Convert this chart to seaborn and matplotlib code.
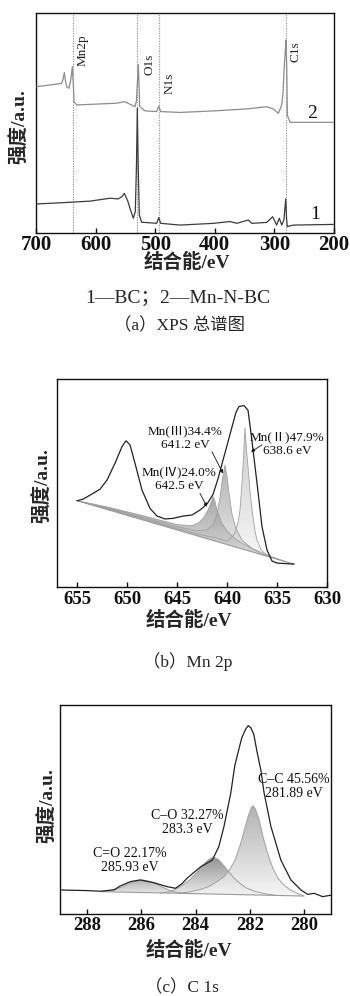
import numpy as np
import pandas as pd
import seaborn as sns
import matplotlib
matplotlib.use("Agg")
import matplotlib.pyplot as plt
from matplotlib.colors import LinearSegmentedColormap

# ---------------- data ----------------
# (a) survey spectra
A_TICKS = [700, 600, 500, 400, 300, 200]
a2_E = [699, 676, 657, 654.5, 652.5, 650.5, 648.5, 644.6, 641.5, 639.0, 637.5, 636.2, 631.8, 598, 565, 551, 540, 534,
        531.5, 529.5, 528.3, 527.2, 526, 517, 497.5, 494.1, 490.8, 458, 402, 346, 313, 302, 293.4, 287.7, 285.5,
        283.9, 282, 280.5, 279.3, 278.3, 273.8, 201]
a2_v = [66.5, 67.3, 68.0, 70.0, 72.9, 69.0, 66.5, 65.8, 70.0, 75.6, 68.0, 59.7, 58.2, 58.6, 59.0, 59.7, 58.2, 57.4,
        60.0, 70.0, 76.4, 68.0, 57.5, 55.5, 55.2, 57.7, 55.2, 54.8, 55.5, 56.4, 57.4, 56.4, 54.4, 58.2, 64.0,
        73.3, 82.0, 87.7, 75.0, 53.6, 50.3, 50.3]
a1_E = [699, 654, 609, 576, 562, 556, 551.8, 546, 542.3, 536.7, 533.4, 531.5, 530, 528.5, 526.7, 522.7, 497.5,
        494.1, 490.8, 458, 402, 374.5, 363, 343.7, 338, 313, 302.9, 296.2, 291.8, 287.7, 284, 281, 279.5, 278.3,
        268.3, 201]
a1_v = [13.2, 13.8, 14.5, 15.8, 15.5, 16.5, 18.0, 14.5, 11.2, 6.7, 9.7, 30.0, 56.7, 30.0, 8.2, 4.9, 4.4,
        7.0, 4.4, 3.6, 4.4, 5.2, 4.4, 5.9, 4.4, 4.8, 7.4, 3.6, 6.7, 3.6, 6.0, 15.5, 6.0, 2.9,
        3.6, 3.9]
a_line_E = [637.4, 529.7, 493.1, 280.5]
a_line_lab = ["Mn2p", "O1s", "N1s", "C1s"]
a_lab_E = [621.1, 510.4, 475.2, 263.8]
a_lab_v = [83.2, 76.8, 68.2, 82.3]
a_curve_lab = ["2", "1"]
a_curve_lab_E = [236.9, 231.9]
a_curve_lab_v = [54.5, 8.6]

# (b) Mn 2p
B_TICKS = [655, 650, 645, 640, 635, 630]
b_env_E = [655.0, 654.4, 653.4, 652.7, 652.0, 651.2, 650.5, 650.1, 649.7, 649.2, 648.5, 647.7, 647.0, 646.2,
           645.4, 644.4, 643.5, 642.7, 642.0, 641.4, 640.9, 640.4, 640.0, 639.5, 639.1, 638.8, 638.3, 637.9,
           637.6, 637.0, 636.5, 636.0, 635.5, 635.0, 633.3]
b_env_v = [41.5, 42.2, 45.0, 47.0, 51.4, 59.5, 67.5, 70.3, 68.3, 59.5, 46.6, 37.8, 34.1, 32.7,
           33.0, 34.1, 34.6, 37.0, 39.9, 44.5, 52.0, 61.0, 68.0, 77.0, 84.0, 86.8, 87.2, 85.0,
           74.0, 50.0, 29.0, 17.8, 12.5, 11.5, 11.0]
b_bg_E = [655.0, 633.3]
b_bg_v = [41.5, 11.0]
b4_E = [655, 652, 649, 647, 645, 643.5, 642.8, 642.3, 641.9, 641.6, 641.4, 641.2, 640.9, 640.5, 640.0, 639.4,
        638.5, 637.5, 636.5, 635.5, 634]
b4_v = [41.5, 38.5, 35.0, 32.5, 30.0, 29.5, 31.0, 33.5, 37.0, 40.5, 43.5, 41.0, 35.5, 30.5, 27.0, 24.0,
        21.0, 18.5, 16.5, 14.5, 12.0]
b3_E = [655, 651, 648, 645, 643, 642, 641.4, 641.0, 640.7, 640.45, 640.2, 640.0, 639.8, 639.5, 639.1, 638.5,
        637.5, 636.5, 635.5]
b3_v = [41.5, 37.0, 33.0, 29.0, 27.0, 27.5, 30.0, 35.0, 43.0, 52.0, 58.7, 53.0, 45.0, 35.0, 28.0, 22.5,
        18.5, 15.7, 14.1]
b2_E = [655, 650, 646, 643, 641, 640, 639.5, 639.2, 638.9, 638.7, 638.5, 638.35, 638.2, 638.05, 637.9, 637.7,
        637.5, 637.2, 637.0, 636.6, 636.2, 635.5, 634.5]
b2_v = [41.5, 35.0, 29.5, 25.5, 23.5, 22.0, 24.0, 26.0, 31.0, 37.0, 50.0, 62.0, 76.5, 66.0, 57.8, 46.0,
        37.0, 27.0, 22.6, 18.0, 16.0, 14.3, 12.7]
b_ann = ["Mn(Ⅲ)34.4%\n641.2 eV", "Mn(Ⅱ)47.9%\n638.6 eV", "Mn(Ⅳ)24.0%\n642.5 eV"]
b_ann_E = [644.2, 634.0, 644.8]
b_ann_v = [71.6, 68.75, 51.9]
b_arrow_from_E = [641.5, 636.5, 642.7]
b_arrow_from_v = [65.0, 68.3, 45.0]
b_arrow_to_E = [640.4, 637.6, 642.0]
b_arrow_to_v = [54.6, 65.0, 38.6]

# (c) C 1s
C_TICKS = [288, 286, 284, 282, 280]
c_env_E = [289.0, 288.0, 287.5, 287.0, 286.78, 286.4, 286.04, 285.54, 285.05, 284.74, 284.5, 284.31, 284.05,
           283.81, 283.38, 283.14, 282.95, 282.7, 282.55, 282.3, 282.15, 282.05, 281.95, 281.85, 281.72, 281.59,
           281.47, 281.22, 280.85, 280.48, 280.11, 279.86, 279.62, 279.31, 278.96]
c_env_v = [11.5, 11.2, 10.9, 11.6, 13.4, 15.5, 16.3, 15.0, 13.1, 12.3, 14.5, 17.1, 20.0,
           22.6, 25.8, 32.2, 41.8, 57.7, 71.0, 84.0, 88.5, 90.1, 89.0, 86.0, 77.0, 69.0,
           58.0, 42.0, 25.8, 16.3, 11.5, 9.4, 9.9, 8.3, 9.1]
c_bg_E = [287.5, 280.0]
c_bg_v = [10.7, 8.6]
c_cdo_E = [287.3, 287.0, 286.7, 286.4, 286.15, 285.97, 285.75, 285.5, 285.2, 284.9, 284.6, 284.3]
c_cdo_v = [10.64, 11.6, 13.0, 14.8, 15.9, 16.3, 15.8, 14.6, 12.8, 11.0, 10.2, 9.8]
c_co_E = [285.3, 285.0, 284.7, 284.4, 284.2, 284.0, 283.8, 283.6, 283.45, 283.32, 283.15, 283.0, 282.85, 282.6,
          282.35, 282.1, 281.8, 281.4, 281.0]
c_co_v = [10.08, 10.6, 12.0, 14.5, 16.5, 19.2, 22.3, 25.0, 26.6, 27.1, 26.0, 23.8, 21.5, 17.5,
          14.5, 12.3, 10.8, 9.6, 8.88]
c_cc_E = [284.6, 284.2, 283.8, 283.5, 283.2, 282.95, 282.75, 282.55, 282.35, 282.2, 282.05, 281.95, 281.88, 281.8,
          281.65, 281.5, 281.35, 281.15, 280.95, 280.75, 280.5, 280.25, 280.0]
c_cc_v = [9.89, 10.6, 11.8, 13.2, 15.5, 17.8, 21.0, 25.5, 33.0, 40.0, 47.0, 50.5, 51.8, 50.5,
          45.0, 36.5, 29.5, 22.0, 17.0, 14.0, 11.5, 9.9, 8.6]
c_ann = ["C–C 45.56%\n281.89 eV", "C–O 32.27%\n283.3 eV", "C=O 22.17%\n285.93 eV"]
c_ann_E = [280.37, 284.31, 286.41]
c_ann_v = [60.8, 43.8, 25.8]

XLABEL = "结合能/eV"
YLABEL = "强度/a.u."
CAPTIONS = ["1—BC；2—Mn-N-BC", "（a）XPS 总谱图", "（b）Mn 2p", "（c）C 1s"]

# ---------------- style ----------------
sns.set_theme(style="white")
FAM = ["Liberation Serif", "Noto Sans CJK SC", "DejaVu Sans"]
plt.rcParams["font.family"] = FAM
plt.rcParams.update({
    "axes.linewidth": 1.0,
    "axes.edgecolor": "#111111",
    "xtick.direction": "in",
    "xtick.major.size": 3.5,
    "xtick.major.width": 1.0,
    "xtick.color": "#111111",
    "xtick.bottom": True,
})

fig = plt.figure(figsize=(3.5, 9.96), dpi=100)
W, H = 350.0, 996.0


def add_axes(l, t, r, b):
    return fig.add_axes([l / W, 1 - b / H, (r - l) / W, (b - t) / H])


def shade(ax, E, v, top, bottom, alpha, z):
    patch = ax.fill(E, v, facecolor="none", edgecolor="none", zorder=z)[0]
    cmap = LinearSegmentedColormap.from_list("g", [bottom, top])
    img = ax.imshow(np.linspace(0, 1, 128)[:, None], cmap=cmap, origin="lower", aspect="auto",
                    extent=(min(E), max(E), min(v), max(v)), alpha=alpha, zorder=z,
                    interpolation="bilinear")
    img.set_clip_path(patch)


def line(ax, E, v, color, lw, z=3):
    sns.lineplot(x=E, y=v, ax=ax, color=color, linewidth=lw, sort=False, estimator=None, zorder=z)


def finish(ax, xlim, ticks, tsize, pad, xl, yl):
    ax.set_xlim(*xlim)
    ax.set_ylim(0, 100)
    ax.set_xticks(ticks)
    ax.set_xticklabels([str(t) for t in ticks], fontsize=tsize, fontweight="bold")
    ax.tick_params(axis="x", pad=pad, length=3.5)
    ax.set_yticks([])
    ax.set_xlabel(XLABEL, fontsize=14, fontweight="bold", family=FAM)
    ax.xaxis.label.set_va("center")
    ax.xaxis.set_label_coords(*xl)
    ax.set_ylabel(YLABEL, fontsize=14, fontweight="bold", family=FAM)
    ax.yaxis.label.set_va("center")
    ax.yaxis.set_label_coords(*yl)
    for s in ax.spines.values():
        s.set_visible(True)
        s.set_color("#111111")


# ---------------- (a) ----------------
axa = add_axes(36, 13, 334, 233)
for e in a_line_E:
    axa.axvline(e, color="#8a8a8a", lw=0.8, ls=(0, (1, 1.3)), zorder=1)
line(axa, a2_E, a2_v, "#8c8c8c", 0.9)
line(axa, a1_E, a1_v, "#3c3c3c", 0.9)
for s, e, v in zip(a_line_lab, a_lab_E, a_lab_v):
    axa.text(e, v, s, rotation=90, ha="center", va="center", fontsize=9.5, color="#222222")
for s, e, v in zip(a_curve_lab, a_curve_lab_E, a_curve_lab_v):
    axa.text(e, v, s, ha="center", va="center", fontsize=14, color="#111111")
finish(axa, (700, 200), A_TICKS, 15, 1.5, (0.507, -0.136), (-0.054, 0.486))

# ---------------- (b) ----------------
axb = add_axes(57, 379, 327, 587)
shade(axb, b2_E, b2_v, "#c4c4c4", "#f6f6f6", 0.85, 1)
shade(axb, b3_E, b3_v, "#9a9a9a", "#e4e4e4", 0.75, 1.1)
shade(axb, b4_E, b4_v, "#8a8a8a", "#dcdcdc", 0.75, 1.2)
for E, v in [(b2_E, b2_v), (b3_E, b3_v), (b4_E, b4_v)]:
    line(axb, E, v, "#a0a0a0", 0.6, 2)
line(axb, b_bg_E, b_bg_v, "#9a9a9a", 0.8, 2)
line(axb, b_env_E, b_env_v, "#222222", 0.9, 3)
for s, e, v in zip(b_ann, b_ann_E, b_ann_v):
    axb.text(e, v, s, ha="center", va="center", fontsize=9.5, linespacing=1.15, color="#111111", zorder=5)
for e0, v0, e1, v1 in zip(b_arrow_from_E, b_arrow_from_v, b_arrow_to_E, b_arrow_to_v):
    axb.annotate("", xy=(e1, v1), xytext=(e0, v0),
                 arrowprops=dict(arrowstyle="-|>", color="#111111", lw=0.6, mutation_scale=5,
                                 shrinkA=0, shrinkB=0), zorder=5)
finish(axb, (657, 630), B_TICKS, 13.5, 3.0, (0.489, -0.159), (-0.052, 0.49))

# ---------------- (c) ----------------
axc = add_axes(60, 705, 331, 914)
shade(axc, c_cdo_E, c_cdo_v, "#a8a8a8", "#e6e6e6", 0.85, 1)
shade(axc, c_co_E, c_co_v, "#7c7c7c", "#e8e8e8", 0.85, 1.1)
shade(axc, c_cc_E, c_cc_v, "#a4a4a4", "#f4f4f4", 0.85, 1.2)
for E, v in [(c_cdo_E, c_cdo_v), (c_co_E, c_co_v), (c_cc_E, c_cc_v)]:
    line(axc, E, v, "#a0a0a0", 0.7, 2)
line(axc, c_bg_E, c_bg_v, "#9a9a9a", 0.8, 2)
line(axc, c_env_E, c_env_v, "#222222", 0.9, 3)
for s, e, v in zip(c_ann, c_ann_E, c_ann_v):
    axc.text(e, v, s, ha="center", va="center", fontsize=10, linespacing=1.1, color="#111111", zorder=5)
finish(axc, (289, 279), C_TICKS, 13.5, 2.2, (0.476, -0.172), (-0.045, 0.52))

# ---------------- captions ----------------
fig.text(178 / W, 1 - 298 / H, CAPTIONS[0], ha="center", va="center", fontsize=14, family=FAM)
fig.text(180 / W, 1 - 326 / H, CAPTIONS[1], ha="center", va="center", fontsize=12.5, family=FAM)
fig.text(188 / W, 1 - 662 / H, CAPTIONS[2], ha="center", va="center", fontsize=12.5, family=FAM)
fig.text(182 / W, 1 - 988 / H, CAPTIONS[3], ha="center", va="center", fontsize=12.5, family=FAM)

fig.savefig("out.png", dpi=100)
